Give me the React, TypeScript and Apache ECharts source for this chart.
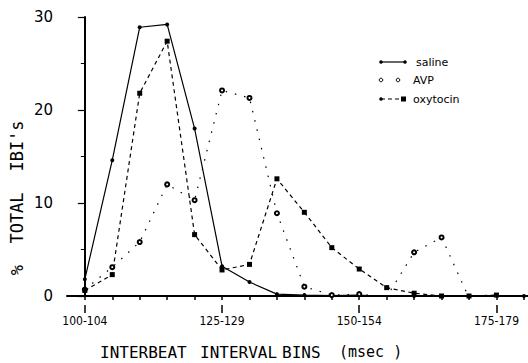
import React, { useEffect, useRef } from "react";
import * as echarts from "echarts";

const binLabels = [
  "100-104", "105-109", "110-114", "115-119", "120-124", "125-129", "130-134", "135-139",
  "140-144", "145-149", "150-154", "155-159", "160-164", "165-169", "170-174", "175-179", "180-184",
];
const labeledBins = [0, 5, 10, 15];
const yTicks = [0, 10, 20, 30];

const saline = [1.8, 14.6, 28.9, 29.2, 18.0, 3.2, 1.5, 0.2, 0.1, 0.05, 0.1, -0.1, 0.0, 0.0, -0.1, -0.1, 0.0];
const avp = [0.7, 3.1, 5.8, 12.0, 10.3, 22.1, 21.3, 8.9, 1.0, 0.1, 0.2, -0.1, 4.7, 6.3, -0.2, -0.1, -0.1];
const oxytocin = [0.6, 2.3, 21.8, 27.4, 6.6, 2.8, 3.4, 12.6, 9.0, 5.2, 2.9, 0.9, 0.3, 0.0, 0.0, 0.1];

const FONT = "DejaVu Sans";
const MONO = "DejaVu Sans Mono";
const NARROW = "'Liberation Sans Narrow', 'DejaVu Sans Condensed', 'DejaVu Sans'";

export default function App() {
  const ref = useRef<HTMLDivElement>(null);
  useEffect(() => {
    if (!ref.current) return;
    const chart = echarts.init(ref.current, null, { renderer: "svg" });
    const toPairs = (arr: number[]) => arr.map((v, i) => [i, v]);
    const legendY = [62, 80, 99];
    const ytitle = (text: string, y: number) => ({
      type: "text",
      x: 17,
      y,
      rotation: Math.PI / 2,
      style: { text, fill: "#000", font: `17px ${MONO}`, align: "center", verticalAlign: "middle" },
    });
    const xtitle = (text: string, x: number, size: number) => ({
      type: "text",
      x,
      y: 352,
      style: { text, fill: "#000", font: `${size}px ${MONO}`, align: "left", verticalAlign: "middle" },
    });
    chart.setOption({
      animation: false,
      backgroundColor: "#fff",
      grid: { left: 67, right: 0, top: 17, bottom: 67 },
      xAxis: [
        {
          type: "value",
          min: -0.65,
          max: 16.15,
          offset: 9,
          axisLine: { show: true, lineStyle: { color: "#000", width: 2 } },
          axisTick: { show: true, customValues: binLabels.map((_, i) => i), length: 4, lineStyle: { color: "#000", width: 1.5 } },
          axisLabel: {
            show: true,
            customValues: labeledBins,
            formatter: (v: number) => binLabels[Math.round(v)],
            color: "#000",
            fontFamily: NARROW,
            fontSize: 12,
            margin: 10,
          },
          splitLine: { show: false },
        },
        {
          type: "value",
          min: -0.65,
          max: 16.15,
          position: "bottom",
          offset: 9,
          axisLine: { show: false },
          axisTick: { show: true, customValues: labeledBins, length: 8, lineStyle: { color: "#000", width: 1.5 } },
          axisLabel: { show: false },
          splitLine: { show: false },
        },
      ],
      yAxis: {
        type: "value",
        min: 0,
        max: 30,
        interval: 10,
        axisLine: { show: true, lineStyle: { color: "#000", width: 2 } },
        axisTick: { show: true, length: 7, lineStyle: { color: "#000", width: 1.2 } },
        minorTick: { show: true, splitNumber: 2, length: 4, lineStyle: { color: "#000" } },
        axisLabel: {
          color: "#000",
          fontFamily: FONT,
          fontSize: 15,
          margin: 14,
          formatter: (v: number) => (yTicks.includes(v) ? String(v) : ""),
        },
        splitLine: { show: false },
      },
      series: [
        {
          name: "saline",
          type: "line",
          data: toPairs(saline),
          symbol: "circle",
          symbolSize: 4,
          itemStyle: { color: "#000" },
          lineStyle: { color: "#000", width: 1.2, type: "solid" },
        },
        {
          name: "AVP",
          type: "line",
          data: toPairs(avp),
          symbol: "emptyCircle",
          symbolSize: 4,
          itemStyle: { color: "#000", borderColor: "#000", borderWidth: 1 },
          lineStyle: { color: "#000", width: 1.2, type: [1.5, 8] },
        },
        {
          name: "oxytocin",
          type: "line",
          data: toPairs(oxytocin),
          symbol: "rect",
          symbolSize: 5,
          itemStyle: { color: "#000" },
          lineStyle: { color: "#000", width: 1.2, type: [4, 3.5] },
        },
      ],
      graphic: [
        ytitle("%", 270),
        ytitle("TOTAL", 218),
        ytitle("IBI's", 146),
        xtitle("INTERBEAT", 100, 16),
        xtitle("INTERVAL", 200, 16),
        xtitle("BINS", 282, 16),
        xtitle("(msec )", 339, 15),
        // legend
        { type: "line", shape: { x1: 381, y1: legendY[0], x2: 405, y2: legendY[0] }, style: { stroke: "#000", lineWidth: 1.2 } },
        { type: "circle", shape: { cx: 381, cy: legendY[0], r: 1.8 }, style: { fill: "#000" } },
        { type: "circle", shape: { cx: 405, cy: legendY[0], r: 1.8 }, style: { fill: "#000" } },
        { type: "circle", shape: { cx: 381, cy: legendY[1], r: 1.8 }, style: { fill: "#fff", stroke: "#000", lineWidth: 1 } },
        { type: "circle", shape: { cx: 398, cy: legendY[1], r: 1.8 }, style: { fill: "#fff", stroke: "#000", lineWidth: 1 } },
        { type: "line", shape: { x1: 381, y1: legendY[2], x2: 405, y2: legendY[2] }, style: { stroke: "#000", lineWidth: 1.2, lineDash: [4, 3] } },
        { type: "circle", shape: { cx: 381, cy: legendY[2], r: 1.8 }, style: { fill: "#000" } },
        { type: "rect", shape: { x: 401, y: legendY[2] - 2.5, width: 5, height: 5 }, style: { fill: "#000" } },
        { type: "text", x: 416, y: legendY[0], style: { text: "saline", fill: "#000", font: `11px ${FONT}`, verticalAlign: "middle" } },
        { type: "text", x: 413, y: legendY[1], style: { text: "AVP", fill: "#000", font: `11px ${FONT}`, verticalAlign: "middle" } },
        { type: "text", x: 413, y: legendY[2], style: { text: "oxytocin", fill: "#000", font: `11px ${FONT}`, verticalAlign: "middle" } },
      ],
    });
    return () => chart.dispose();
  }, []);
  return <div ref={ref} style={{ width: 528, height: 363, position: "absolute", left: 0, top: 0 }} />;
}
